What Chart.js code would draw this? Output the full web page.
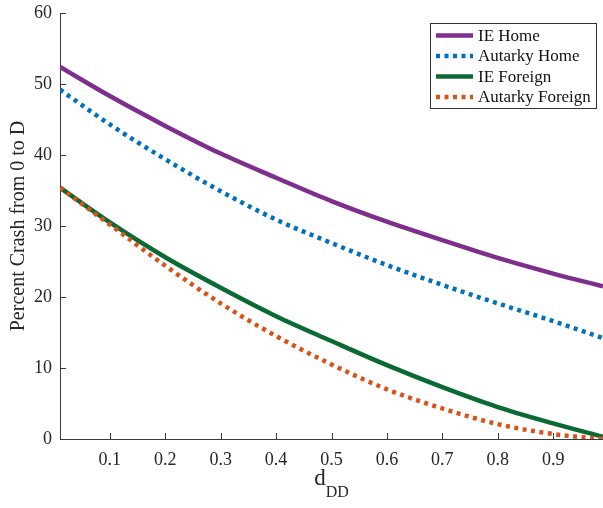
<!DOCTYPE html>
<html>
<head>
<meta charset="utf-8">
<script src="https://cdn.jsdelivr.net/npm/chart.js@4/dist/chart.umd.min.js"></script>
<style>
  html, body { margin: 0; padding: 0; background: #fff; }
  #wrap { width: 603px; height: 508px; }
</style>
</head>
<body>
<div id="wrap"><canvas id="crash" width="603" height="508"></canvas></div>
<script>
// d_DD grid and crash percentages
const dd = [0.01, 0.1, 0.2, 0.3, 0.4, 0.5, 0.6, 0.7, 0.8, 0.9, 0.99];
const ieHome = [52.4, 48.3, 44.1, 40.2, 36.8, 33.5, 30.6, 28.0, 25.5, 23.3, 21.5];
const autarkyHome = [49.2, 44.3, 39.4, 34.9, 30.9, 27.6, 24.5, 21.7, 19.1, 16.6, 14.2];
const ieForeign = [35.4, 30.5, 25.6, 21.3, 17.3, 13.8, 10.4, 7.3, 4.5, 2.2, 0.3];
const autarkyForeign = [35.4, 30.2, 24.4, 19.1, 14.5, 10.5, 7.0, 4.3, 2.1, 0.7, 0.0];
const xTicks = [0.1, 0.2, 0.3, 0.4, 0.5, 0.6, 0.7, 0.8, 0.9];
const yTicks = [0, 10, 20, 30, 40, 50, 60];

const serif = '"Liberation Serif", "Times New Roman", serif';
const axisColor = '#3a3a3a';

const pts = ys => dd.map((x, i) => ({ x: x, y: ys[i] }));

// matlab-style ticks pointing into the plot
const innerTicks = {
    id: 'innerTicks',
    afterDatasetsDraw(chart) {
        const ctx = chart.ctx;
        const a = chart.chartArea;
        const xs = chart.scales.x, ys = chart.scales.y;
        ctx.save();
        ctx.strokeStyle = axisColor;
        ctx.lineWidth = 1;
        ctx.beginPath();
        xTicks.forEach(v => {
            const px = Math.round(xs.getPixelForValue(v)) + 0.5;
            ctx.moveTo(px, a.bottom);
            ctx.lineTo(px, a.bottom - 6);
        });
        yTicks.forEach(v => {
            const py = Math.round(ys.getPixelForValue(v)) + 0.5;
            ctx.moveTo(a.left, py);
            ctx.lineTo(a.left + 6, py);
        });
        ctx.stroke();
        ctx.restore();
    }
};

// x title with subscript
const subTitle = {
    id: 'subTitle',
    afterDraw(chart) {
        const ctx = chart.ctx;
        const a = chart.chartArea;
        ctx.save();
        ctx.fillStyle = '#262626';
        ctx.textBaseline = 'alphabetic';
        ctx.font = '23px ' + serif;
        const w1 = ctx.measureText('d').width;
        ctx.font = '16px ' + serif;
        const w2 = ctx.measureText('DD').width;
        const x0 = (a.left + a.right) / 2 - (w1 + w2) / 2;
        ctx.font = '23px ' + serif;
        ctx.fillText('d', x0, 485);
        ctx.font = '16px ' + serif;
        ctx.fillText('DD', x0 + w1, 497);
        ctx.restore();
    }
};

// boxed legend in the upper right corner
const boxLegend = {
    id: 'boxLegend',
    afterDraw(chart) {
        const ctx = chart.ctx;
        const sets = chart.data.datasets;
        const left = 430.5, top = 23.5, w = 166, h = 85;
        ctx.save();
        ctx.fillStyle = '#fff';
        ctx.fillRect(left, top, w, h);
        ctx.strokeStyle = '#333';
        ctx.lineWidth = 1;
        ctx.strokeRect(left, top, w, h);
        ctx.font = '17px ' + serif;
        ctx.textBaseline = 'middle';
        sets.forEach((ds, i) => {
            const y = 35.5 + i * 20.5;
            ctx.strokeStyle = ds.borderColor;
            ctx.lineWidth = ds.borderWidth;
            ctx.lineCap = 'butt';
            ctx.setLineDash(ds.borderDash || []);
            ctx.beginPath();
            ctx.moveTo(436, y);
            ctx.lineTo(473, y);
            ctx.stroke();
            ctx.setLineDash([]);
            ctx.fillStyle = '#111';
            ctx.fillText(ds.label, 478, y + 1);
        });
        ctx.restore();
    }
};

new Chart(document.getElementById('crash'), {
    type: 'line',
    data: {
        datasets: [
            { label: 'IE Home', data: pts(ieHome), borderColor: '#7E2F8E', borderWidth: 4.5, order: 3 },
            { label: 'Autarky Home', data: pts(autarkyHome), borderColor: '#0072BD', borderWidth: 4.5, borderDash: [4, 4.5], order: 2 },
            { label: 'IE Foreign', data: pts(ieForeign), borderColor: '#0B6A33', borderWidth: 4.5, order: 1 },
            { label: 'Autarky Foreign', data: pts(autarkyForeign), borderColor: '#D95319', borderWidth: 4.5, borderDash: [4, 4.5], order: 0 }
        ]
    },
    options: {
        responsive: false,
        animation: false,
        events: [],
        layout: { padding: { top: 13, right: 0, left: 0, bottom: 0 } },
        elements: {
            point: { radius: 0 },
            line: { cubicInterpolationMode: 'monotone', fill: false, borderCapStyle: 'butt' }
        },
        plugins: {
            legend: { display: false },
            tooltip: { enabled: false }
        },
        scales: {
            x: {
                type: 'linear',
                min: 0.01,
                max: 0.99,
                afterBuildTicks: s => { s.ticks = xTicks.map(v => ({ value: v })); },
                afterFit: s => { s.height = 69; s.paddingLeft = 0; s.paddingRight = 0; },
                grid: { display: false },
                border: { display: true, color: axisColor, width: 1 },
                ticks: { color: '#262626', padding: 2, maxRotation: 0, font: { family: serif, size: 18 } }
            },
            y: {
                min: 0,
                max: 60,
                afterBuildTicks: s => { s.ticks = yTicks.map(v => ({ value: v })); },
                afterFit: s => { s.width = 60; s.paddingTop = 0; s.paddingBottom = 0; },
                grid: { display: false },
                border: { display: true, color: axisColor, width: 1 },
                ticks: { color: '#262626', padding: 0, font: { family: serif, size: 18 } },
                title: {
                    display: true,
                    text: 'Percent Crash from 0 to D',
                    color: '#262626',
                    padding: { top: 7, bottom: 0 },
                    font: { family: serif, size: 20 }
                }
            }
        }
    },
    plugins: [innerTicks, subTitle, boxLegend]
});
</script>
</body>
</html>
